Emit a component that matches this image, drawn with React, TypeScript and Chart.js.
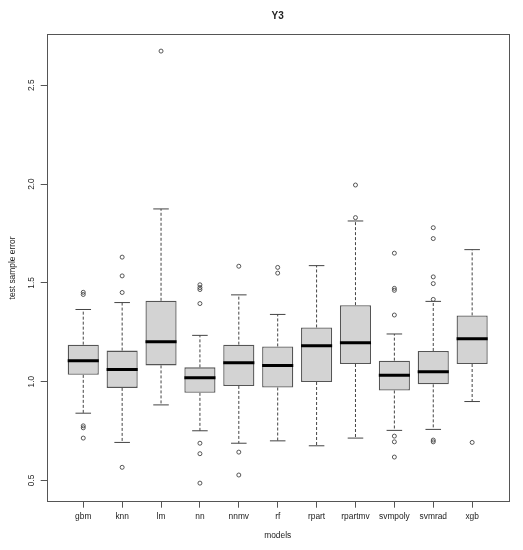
import React, { useEffect, useRef } from "react";
import { Chart, registerables } from "chart.js";

Chart.register(...registerables);

const categories = ["gbm", "knn", "lm", "nn", "nnmv", "rf", "rpart", "rpartmv", "svmpoly", "svmrad", "xgb"];
const lowerWhisker = [0.840, 0.692, 0.882, 0.751, 0.688, 0.700, 0.675, 0.714, 0.753, 0.758, 0.899];
const q1 = [1.034, 0.968, 1.082, 0.943, 0.978, 0.970, 0.998, 1.089, 0.955, 0.986, 1.089];
const medians = [1.106, 1.061, 1.202, 1.019, 1.096, 1.082, 1.182, 1.196, 1.032, 1.050, 1.217];
const q3 = [1.187, 1.157, 1.409, 1.072, 1.187, 1.178, 1.274, 1.387, 1.106, 1.155, 1.335];
const upperWhisker = [1.365, 1.400, 1.874, 1.234, 1.439, 1.340, 1.587, 1.813, 1.241, 1.406, 1.668];
const outliers: number[][] = [
  [1.452, 1.441, 0.776, 0.766, 0.714],
  [1.630, 1.535, 1.451, 0.566],
  [2.673],
  [1.490, 1.476, 1.466, 1.395, 0.688, 0.635, 0.486],
  [1.584, 0.643, 0.527],
  [1.578, 1.549],
  [],
  [1.995, 1.830],
  [1.650, 1.472, 1.462, 1.337, 0.724, 0.695, 0.618],
  [1.779, 1.724, 1.530, 1.496, 1.416, 0.704, 0.695],
  [0.692],
];
const yTicks = [0.5, 1.0, 1.5, 2.0, 2.5];
const titleText = "Y3";
const xTitle = "models";
const yTitle = "test sample error";

const FONT = '"Liberation Sans", Arial, sans-serif';
const FS = 8.4;

const framePlugin = {
  id: "framePlugin",
  afterDraw(chart: any) {
    const { ctx, chartArea: a, scales } = chart;
    ctx.save();
    ctx.strokeStyle = "#555";
    ctx.lineWidth = 1;
    ctx.strokeRect(Math.round(a.left) + 0.5, Math.round(a.top) + 0.5, Math.round(a.right - a.left), Math.round(a.bottom - a.top));
    ctx.fillStyle = "#222";
    ctx.font = `${FS}px ${FONT}`;
    ctx.textAlign = "center";
    ctx.textBaseline = "middle";
    const ys = scales.y;
    yTicks.forEach((v) => {
      const py = ys.getPixelForValue(v);
      ctx.save();
      ctx.translate(32, py);
      ctx.rotate(-Math.PI / 2);
      ctx.fillText(v.toFixed(1), 0, 0);
      ctx.restore();
    });
    const cy = (a.top + a.bottom) / 2;
    const cx = (a.left + a.right) / 2;
    ctx.save();
    ctx.translate(13, cy);
    ctx.rotate(-Math.PI / 2);
    ctx.fillText(yTitle, 0, 0);
    ctx.restore();
    ctx.fillText(xTitle, cx, 536);
    ctx.font = `bold 10px ${FONT}`;
    ctx.fillText(titleText, cx, 16.5);
    ctx.restore();
  },
};

export default function App() {
  const ref = useRef<HTMLCanvasElement | null>(null);
  useEffect(() => {
    if (!ref.current) return;
    const pos = categories.map((_, i) => i + 1);
    const boxData = pos.map((x, i) => ({ x, y: [q1[i], q3[i]] }));
    const medianData: any[] = [];
    const stapleData: any[] = [];
    const whiskerData: any[] = [];
    const outlierData: any[] = [];
    pos.forEach((x, i) => {
      medianData.push({ x: x - 0.4, y: medians[i] }, { x: x + 0.4, y: medians[i] }, { x: x + 0.45, y: null });
      stapleData.push({ x: x - 0.2, y: upperWhisker[i] }, { x: x + 0.2, y: upperWhisker[i] }, { x: x + 0.25, y: null });
      stapleData.push({ x: x - 0.2, y: lowerWhisker[i] }, { x: x + 0.2, y: lowerWhisker[i] }, { x: x + 0.25, y: null });
      whiskerData.push({ x, y: q3[i] }, { x, y: upperWhisker[i] }, { x: x + 0.01, y: null });
      whiskerData.push({ x, y: q1[i] }, { x, y: lowerWhisker[i] }, { x: x + 0.01, y: null });
      outliers[i].forEach((v) => outlierData.push({ x, y: v }));
    });
    const chart = new Chart(ref.current, {
      type: "bar",
      data: {
        datasets: [
          {
            type: "line",
            data: medianData,
            borderColor: "#000",
            borderWidth: 3,
            pointRadius: 0,
            spanGaps: false,
            order: 0,
          } as any,
          {
            type: "scatter",
            data: outlierData,
            pointStyle: "circle",
            pointRadius: 2,
            pointBorderWidth: 0.9,
            pointBorderColor: "#444",
            pointBackgroundColor: "rgba(0,0,0,0)",
            showLine: false,
            order: 1,
          } as any,
          {
            type: "line",
            data: stapleData,
            borderColor: "#444",
            borderWidth: 1,
            pointRadius: 0,
            spanGaps: false,
            order: 2,
          } as any,
          {
            type: "line",
            data: whiskerData,
            borderColor: "#444",
            borderWidth: 1,
            borderDash: [3, 2],
            pointRadius: 0,
            spanGaps: false,
            order: 3,
          } as any,
          {
            type: "bar",
            data: boxData as any,
            backgroundColor: "#d3d3d3",
            borderColor: "#555",
            borderWidth: 1.3,
            borderSkipped: false,
            barPercentage: 0.8,
            categoryPercentage: 1,
            order: 4,
          } as any,
        ],
      },
      options: {
        animation: false,
        responsive: false,
        devicePixelRatio: 1,
        layout: { padding: { top: 34.3, right: 14.3, left: 0, bottom: 0 } },
        plugins: { legend: { display: false }, tooltip: { enabled: false }, title: { display: false } },
        scales: {
          x: {
            type: "linear",
            min: 0.06,
            max: 11.94,
            offset: false,
            border: { display: false },
            grid: { display: true, drawOnChartArea: false, drawTicks: true, tickLength: 6, color: "#555", offset: false },
            afterBuildTicks: (s: any) => {
              s.ticks = pos.map((v) => ({ value: v }));
            },
            afterFit: (s: any) => {
              s.height = 48.3;
            },
            ticks: {
              padding: 4,
              color: "#222",
              font: { family: FONT, size: FS },
              maxRotation: 0,
              minRotation: 0,
              autoSkip: false,
              callback: (v: any) => categories[Math.round(Number(v)) - 1] ?? "",
            },
          },
          y: {
            type: "linear",
            min: 0.392,
            max: 2.758,
            beginAtZero: false,
            border: { display: false },
            grid: { display: true, drawOnChartArea: false, drawTicks: true, tickLength: 6, color: "#555" },
            afterBuildTicks: (s: any) => {
              s.ticks = yTicks.map((v) => ({ value: v }));
            },
            afterFit: (s: any) => {
              s.width = 46.7;
            },
            ticks: { display: false },
          },
        },
      } as any,
      plugins: [framePlugin],
    });
    return () => chart.destroy();
  }, []);
  return (
    <div style={{ position: "fixed", left: 0, top: 0, width: 523, height: 550, background: "#fff" }}>
      <canvas ref={ref} width={523} height={550} style={{ width: 523, height: 550 }} />
    </div>
  );
}
